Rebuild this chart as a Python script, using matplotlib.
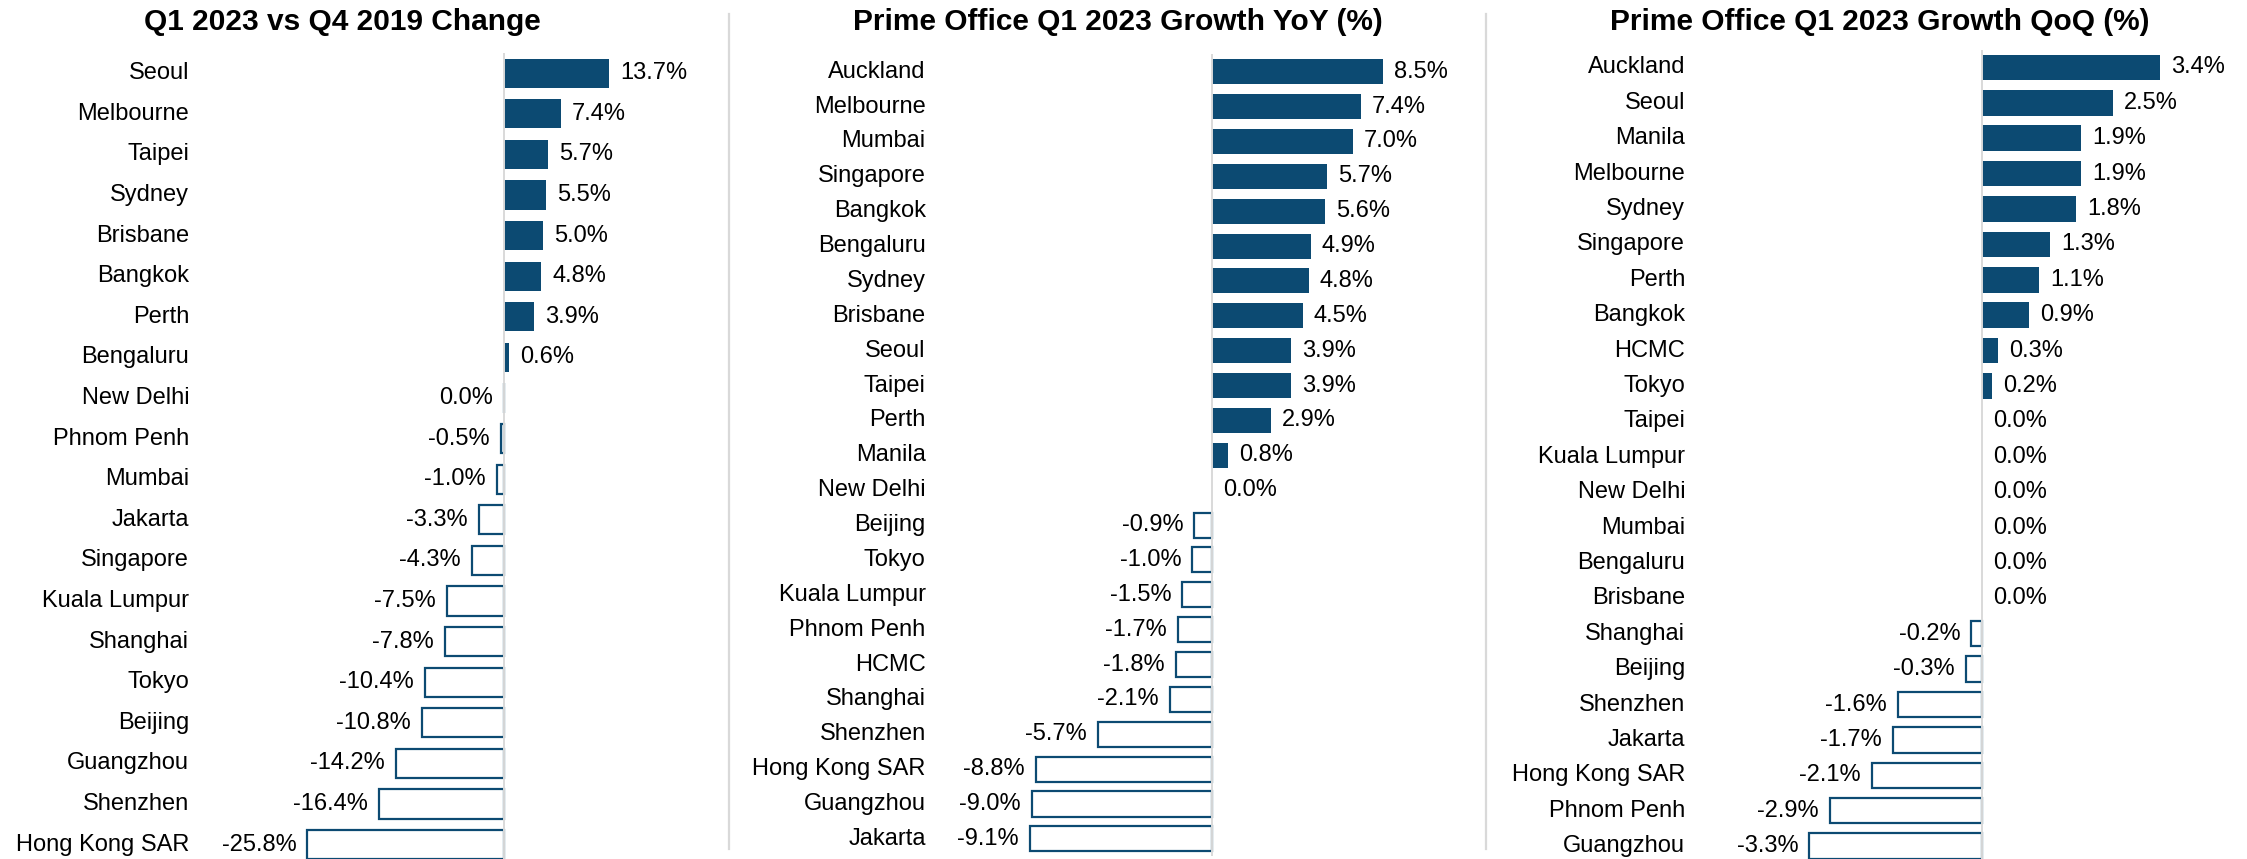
import matplotlib
matplotlib.use("Agg")
import matplotlib.pyplot as plt
from matplotlib.lines import Line2D
from matplotlib.transforms import blended_transform_factory

plt.rcParams['font.family'] = ['Liberation Sans', 'DejaVu Sans']

NAVY = '#0C4A72'
GRID = '#D9D9D9'

# Q1 2023 vs Q4 2019 change
CITIES_CHG = ["Seoul", "Melbourne", "Taipei", "Sydney", "Brisbane", "Bangkok", "Perth",
              "Bengaluru", "New Delhi", "Phnom Penh", "Mumbai", "Jakarta", "Singapore",
              "Kuala Lumpur", "Shanghai", "Tokyo", "Beijing", "Guangzhou", "Shenzhen",
              "Hong Kong SAR"]
VALUES_CHG = [13.7, 7.4, 5.7, 5.5, 5.0, 4.8, 3.9, 0.6, 0.0, -0.5, -1.0, -3.3, -4.3,
              -7.5, -7.8, -10.4, -10.8, -14.2, -16.4, -25.8]

# Prime office growth, year on year
CITIES_YOY = ["Auckland", "Melbourne", "Mumbai", "Singapore", "Bangkok", "Bengaluru",
              "Sydney", "Brisbane", "Seoul", "Taipei", "Perth", "Manila", "New Delhi",
              "Beijing", "Tokyo", "Kuala Lumpur", "Phnom Penh", "HCMC", "Shanghai",
              "Shenzhen", "Hong Kong SAR", "Guangzhou", "Jakarta"]
VALUES_YOY = [8.5, 7.4, 7.0, 5.7, 5.6, 4.9, 4.8, 4.5, 3.9, 3.9, 2.9, 0.8, 0.0,
              -0.9, -1.0, -1.5, -1.7, -1.8, -2.1, -5.7, -8.8, -9.0, -9.1]

# Prime office growth, quarter on quarter
CITIES_QOQ = ["Auckland", "Seoul", "Manila", "Melbourne", "Sydney", "Singapore", "Perth",
              "Bangkok", "HCMC", "Tokyo", "Taipei", "Kuala Lumpur", "New Delhi", "Mumbai",
              "Bengaluru", "Brisbane", "Shanghai", "Beijing", "Shenzhen", "Jakarta",
              "Hong Kong SAR", "Phnom Penh", "Guangzhou"]
VALUES_QOQ = [3.4, 2.5, 1.9, 1.9, 1.8, 1.3, 1.1, 0.9, 0.3, 0.2, 0.0, 0.0, 0.0, 0.0,
              0.0, 0.0, -0.2, -0.3, -1.6, -1.7, -2.1, -2.9, -3.3]

TITLES = ["Q1 2023 vs Q4 2019 Change",
          "Prime Office Q1 2023 Growth YoY (%)",
          "Prime Office Q1 2023 Growth QoQ (%)"]

# layout in a 1568 x 599 reference grid
W, H = 1568.0, 599.0
PANELS = [
    # label_x, left, right, zero, px per %, first row y, last row y, title x, zero drawn as negative
    dict(lx=132, left=140, right=500, zero=352, scale=5.33, y0=51, y1=589, tx=239, zneg=True),
    dict(lx=646, left=655, right=1030, zero=846, scale=14.0, y0=50, y1=585, tx=780, zneg=False),
    dict(lx=1176, left=1180, right=1560, zero=1383, scale=36.5, y0=47, y1=590, tx=1312, zneg=False),
]

fig = plt.figure(figsize=(22.47, 8.59), dpi=100)

data = [(CITIES_CHG, VALUES_CHG), (CITIES_YOY, VALUES_YOY), (CITIES_QOQ, VALUES_QOQ)]
for p, (cities, vals), title in zip(PANELS, data, TITLES):
    n = len(cities)
    sp = (p['y1'] - p['y0']) / (n - 1)
    top = p['y0'] - sp / 2
    bot = p['y1'] + sp / 2
    ax = fig.add_axes([p['left'] / W, 1 - bot / H, (p['right'] - p['left']) / W, (bot - top) / H])
    ax.set_xlim((p['left'] - p['zero']) / p['scale'], (p['right'] - p['zero']) / p['scale'])
    ax.set_ylim(n - 0.5, -0.5)
    ax.axis('off')

    for i, (c, v) in enumerate(zip(cities, vals)):
        neg = v < 0 or (v == 0 and p['zneg'])
        if neg:
            ax.barh(i, v, height=0.72, color='white', edgecolor=NAVY, linewidth=1.6, zorder=2)
            ax.annotate(f"{v:.1f}%", (v, i), xytext=(-8, 0), textcoords='offset points',
                        ha='right', va='center', fontsize=17)
        else:
            ax.barh(i, v, height=0.72, color=NAVY, linewidth=0, zorder=2)
            ax.annotate(f"{v:.1f}%", (v, i), xytext=(8, 0), textcoords='offset points',
                        ha='left', va='center', fontsize=17)
    ax.axvline(0, color=GRID, lw=1.4, zorder=3)

    tr = blended_transform_factory(fig.transFigure, ax.transData)
    for i, c in enumerate(cities):
        ax.text(p['lx'] / W, i, c, transform=tr, ha='right', va='center', fontsize=17)

    fig.text(p['tx'] / W, 1 - 15 / H, title, ha='center', va='center',
             fontsize=21.5, fontweight='bold')

# panel separators
for x in (509, 1037):
    fig.add_artist(Line2D([x / W, x / W], [1 - 10 / H, 1 - 592 / H],
                          transform=fig.transFigure, color=GRID, lw=1.6))

fig.savefig("out.png", dpi=100)
